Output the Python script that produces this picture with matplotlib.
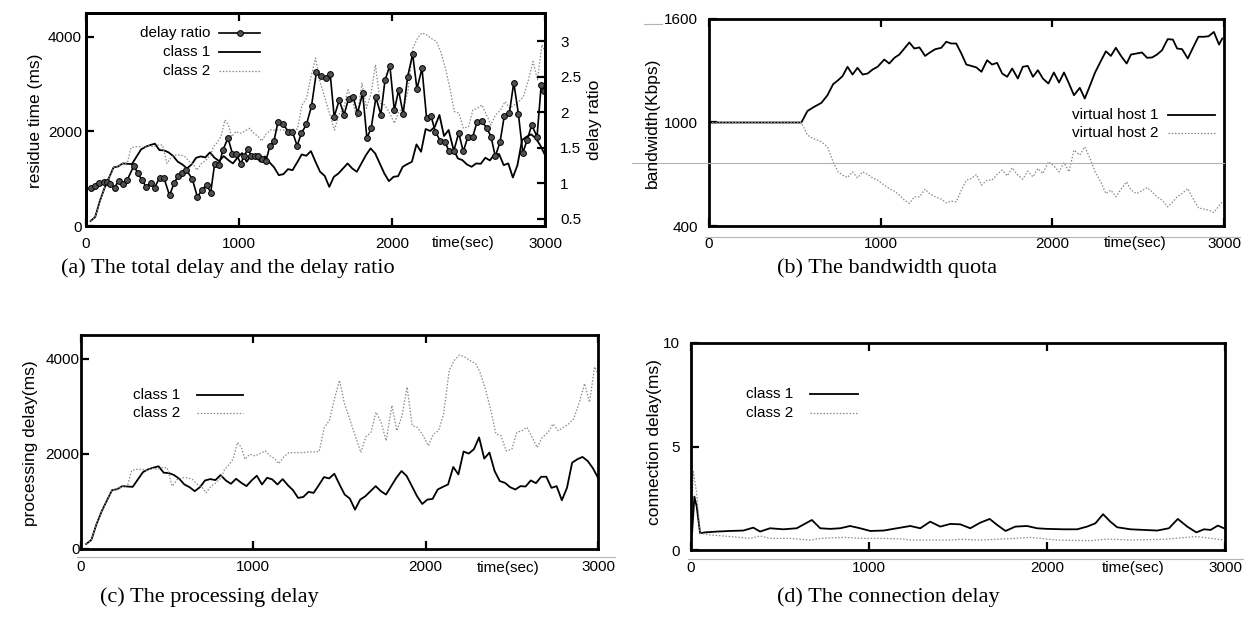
import numpy as np
import matplotlib.pyplot as plt
from matplotlib.lines import Line2D

plt.rcParams['font.family'] = ['Liberation Sans', 'DejaVu Sans']

W, H = 1251, 631

# (a)/(c): residue / processing delay, class 1 sampled every 30 s
t_grid = np.arange(30, 3001, 30)
class1_ms = [106, 191, 523, 792, 1018, 1237, 1258, 1322, 1314, 1307,
             1463, 1618, 1675, 1710, 1739, 1604, 1597, 1555, 1477, 1357,
             1300, 1216, 1300, 1442, 1470, 1449, 1555, 1442, 1371, 1477,
             1392, 1322, 1442, 1541, 1357, 1498, 1463, 1357, 1470, 1343,
             1237, 1074, 1095, 1201, 1180, 1343, 1512, 1484, 1583, 1357,
             1145, 1060, 827, 1039, 1110, 1216, 1322, 1216, 1145, 1322,
             1498, 1640, 1534, 1322, 1110, 947, 1039, 1053, 1251, 1307,
             1357, 1724, 1569, 2049, 2007, 2099, 2346, 1901, 2028, 1640,
             1428, 1392, 1300, 1251, 1322, 1314, 1442, 1385, 1519, 1519,
             1286, 1322, 1025, 1286, 1816, 1887, 1936, 1852, 1700, 1498]

class2_t = [30, 60, 90, 120, 150, 180, 210, 240, 270, 294, 324, 353, 382, 412, 441, 471, 500,
            529, 559, 588, 618, 647, 676, 706, 725, 755, 784, 814, 833, 853, 882, 908, 931, 951,
            980, 1010, 1039, 1069, 1098, 1127, 1147, 1176, 1206, 1235, 1265, 1294, 1324, 1353,
            1382, 1412, 1441, 1471, 1500, 1529, 1559, 1588, 1624, 1653, 1682, 1712, 1741, 1771,
            1804, 1833, 1863, 1892, 1922, 1951, 1980, 2016, 2045, 2075, 2104, 2137, 2167, 2196,
            2225, 2259, 2290, 2318, 2349, 2378, 2408, 2437, 2467, 2500, 2529, 2559, 2588, 2618,
            2647, 2676, 2710, 2739, 2769, 2800, 2829, 2859, 2892, 2922, 2951, 2980, 3000]
class2_ms = [106, 191, 523, 792, 1018, 1237, 1258, 1322, 1330, 1654, 1675, 1675, 1654, 1696,
             1675, 1710, 1710, 1322, 1463, 1498, 1498, 1463, 1357, 1286, 1180, 1322, 1392, 1498,
             1675, 1746, 1887, 2240, 2134, 1887, 1993, 1958, 2007, 2064, 1958, 1887, 1795, 1936,
             2028, 2028, 2028, 2028, 2042, 2042, 2049, 2558, 2700, 3159, 3548, 3053, 2735, 2417,
             2028, 2360, 2452, 2876, 2664, 2276, 3018, 2488, 2806, 3406, 2594, 2558, 2417, 2170,
             2417, 2488, 2841, 3760, 3972, 4078, 4042, 3958, 3901, 3689, 3336, 2912, 2417, 2382,
             2064, 2099, 2452, 2488, 2558, 2346, 2134, 2346, 2452, 2629, 2488, 2558, 2629, 2735,
             3088, 3477, 3088, 3830, 3689]

ratio_t = [34, 62, 88, 117, 134, 160, 187, 213, 239, 270, 313, 339, 365, 394, 422, 448, 481,
           509, 546, 575, 601, 630, 656, 695, 728, 756, 789, 815, 841, 869, 895, 928, 957, 983,
           1011, 1033, 1059, 1081, 1103, 1125, 1151, 1175, 1201, 1229, 1255, 1288, 1321, 1349,
           1380, 1408, 1441, 1474, 1506, 1535, 1567, 1596, 1622, 1655, 1687, 1716, 1746, 1775,
           1808, 1836, 1864, 1895, 1927, 1954, 1986, 2015, 2043, 2073, 2102, 2135, 2163, 2196,
           2226, 2255, 2283, 2315, 2346, 2374, 2403, 2436, 2466, 2495, 2527, 2556, 2586, 2619,
           2647, 2675, 2706, 2734, 2767, 2796, 2826, 2855, 2883, 2913, 2948, 2975, 2996]
ratio = [0.93, 0.97, 1.00, 1.02, 1.02, 0.99, 0.94, 1.04, 0.99, 1.05, 1.25, 1.14, 1.05, 0.95,
         1.01, 0.94, 1.08, 1.08, 0.83, 1.00, 1.10, 1.14, 1.19, 1.06, 0.81, 0.90, 0.98, 0.87,
         1.28, 1.26, 1.47, 1.64, 1.42, 1.41, 1.28, 1.38, 1.49, 1.38, 1.39, 1.38, 1.35, 1.31,
         1.52, 1.60, 1.87, 1.84, 1.73, 1.73, 1.53, 1.71, 1.83, 2.09, 2.57, 2.51, 2.49, 2.54,
         1.94, 2.17, 1.97, 2.19, 2.22, 1.99, 2.27, 1.64, 1.78, 2.21, 1.97, 2.45, 2.66, 2.03,
         2.31, 1.98, 2.50, 2.82, 2.33, 2.62, 1.92, 1.95, 1.73, 1.60, 1.58, 1.45, 1.45, 1.71,
         1.45, 1.65, 1.65, 1.87, 1.88, 1.78, 1.66, 1.38, 1.58, 1.95, 1.99, 2.42, 1.98, 1.43,
         1.61, 1.82, 1.66, 2.38, 2.30]

# (b): bandwidth quota
bw_t = [0, 538, 573, 606, 655, 690, 723, 752, 778, 807, 836, 865, 895, 924, 953, 982, 1021,
        1050, 1080, 1109, 1138, 1167, 1196, 1226, 1259, 1284, 1318, 1353, 1382, 1411, 1440,
        1470, 1499, 1528, 1558, 1587, 1620, 1649, 1678, 1708, 1737, 1766, 1799, 1828, 1857,
        1887, 1916, 1945, 1977, 2009, 2039, 2068, 2097, 2126, 2160, 2189, 2224, 2249, 2282,
        2312, 2341, 2370, 2400, 2433, 2458, 2491, 2522, 2552, 2581, 2610, 2639, 2672, 2702,
        2727, 2756, 2789, 2819, 2851, 2883, 2910, 2941, 2971, 2990]
vhost1 = [1000, 1000, 1066, 1087, 1114, 1158, 1222, 1245, 1269, 1323, 1278, 1317, 1278, 1284,
          1307, 1323, 1365, 1342, 1375, 1394, 1429, 1464, 1429, 1435, 1386, 1404, 1425, 1433,
          1468, 1458, 1458, 1400, 1336, 1328, 1319, 1294, 1361, 1336, 1346, 1284, 1265, 1313,
          1255, 1323, 1328, 1265, 1303, 1255, 1226, 1290, 1232, 1290, 1226, 1158, 1201, 1139,
          1226, 1290, 1355, 1413, 1386, 1433, 1386, 1342, 1394, 1400, 1406, 1375, 1377, 1394,
          1419, 1483, 1481, 1429, 1425, 1371, 1433, 1497, 1497, 1500, 1525, 1452, 1487]
vhost2 = [1000, 1000, 927, 907, 888, 859, 772, 714, 695, 681, 714, 679, 714, 699, 679, 666,
          637, 617, 602, 579, 550, 531, 569, 569, 614, 588, 569, 556, 534, 544, 540, 608, 666,
          675, 699, 637, 666, 666, 699, 724, 691, 737, 695, 672, 718, 685, 733, 704, 772, 749,
          714, 768, 714, 840, 811, 859, 782, 714, 656, 588, 608, 569, 614, 656, 608, 588, 604,
          623, 598, 569, 550, 511, 540, 569, 588, 617, 560, 505, 498, 492, 478, 517, 540]

# (d): connection delay
conn1_t = [0, 6, 19, 32, 51, 79, 145, 219, 294, 350, 388, 444, 519, 594, 679, 726, 782, 838,
           894, 950, 1007, 1082, 1157, 1232, 1288, 1344, 1400, 1457, 1513, 1569, 1625, 1678,
           1720, 1767, 1822, 1888, 1944, 2000, 2094, 2169, 2225, 2272, 2315, 2356, 2394, 2469,
           2544, 2619, 2685, 2735, 2788, 2839, 2882, 2919, 2960, 2994]
conn1 = [0.8, 0.81, 2.58, 2.10, 0.81, 0.85, 0.89, 0.92, 0.94, 1.08, 0.89, 1.05, 1.00, 1.05,
         1.45, 1.05, 1.02, 1.05, 1.16, 1.05, 0.92, 0.94, 1.05, 1.16, 1.05, 1.37, 1.13, 1.26,
         1.24, 1.05, 1.32, 1.50, 1.21, 0.92, 1.13, 1.16, 1.05, 1.02, 1.00, 1.00, 1.13, 1.29,
         1.73, 1.37, 1.10, 1.00, 0.97, 0.94, 1.05, 1.50, 1.13, 0.85, 1.00, 0.97, 1.18, 1.05]
conn2_t = [0, 13, 32, 51, 107, 219, 332, 388, 444, 557, 669, 726, 857, 970, 1082, 1194, 1232,
           1344, 1457, 1513, 1625, 1813, 1907, 2057, 2244, 2338, 2469, 2657, 2844, 2994]
conn2 = [0.8, 3.79, 2.74, 0.81, 0.73, 0.65, 0.56, 0.68, 0.56, 0.56, 0.48, 0.56, 0.61, 0.56,
         0.56, 0.53, 0.48, 0.48, 0.48, 0.52, 0.48, 0.56, 0.61, 0.48, 0.45, 0.53, 0.48, 0.52,
         0.65, 0.48]

x_ticks = [0, 1000, 2000, 3000]

solid = dict(color='black', lw=1.3)
dotted = dict(color='#8a8a8a', lw=0.9, ls=(0, (1.2, 1.4)))


def fx(x):
    return x / W


def fy(y):
    return 1 - y / H


def make_axes(fig, l, t, r, b):
    return fig.add_axes([fx(l), fy(b), (r - l) / W, (b - t) / H])


def style(ax, yticks, ylim, ypad):
    ax.set_xlim(0, 3000)
    ax.set_ylim(*ylim)
    ax.set_xticks(x_ticks)
    ax.set_yticks(yticks)
    ax.tick_params(axis='x', direction='in', top=True, length=6, width=1.6, pad=8, labelsize=11)
    ax.tick_params(axis='y', direction='in', length=6, width=1.6, pad=ypad, labelsize=11)
    for s in ax.spines.values():
        s.set_linewidth(2)


def key(fig, xr, y, label, x0, x1, **kw):
    # gnuplot-like key: text right aligned, sample on the right
    fig.text(fx(xr), fy(y), label, ha='right', va='center', fontsize=11)
    fig.add_artist(Line2D([fx(x0), fx((x0 + x1) / 2), fx(x1)], [fy(y)] * 3, **kw))


def gray_rule(fig, x0, x1, y):
    fig.add_artist(Line2D([fx(x0), fx(x1)], [fy(y), fy(y)], color='#b4b4b4', lw=0.8))


fig = plt.figure(figsize=(W / 100, H / 100), dpi=100)

# (a) total delay and delay ratio
ax = make_axes(fig, 86, 13, 545, 226)
ax.plot(t_grid, class1_ms, **solid)
ax.plot(class2_t, class2_ms, **dotted)
style(ax, [0, 2000, 4000], (0, 4500), 3)
ax.tick_params(axis='y', right=False)
ax2 = ax.twinx()
ax2.plot(ratio_t, ratio, color='black', lw=1.2, marker='o', ms=4.2,
         mfc='#505050', mec='black', mew=0.7)
ax2.set_ylim(0.4, 3.4)
ax2.set_yticks([0.5, 1, 1.5, 2, 2.5, 3])
ax2.set_yticklabels(['0.5', '1', '1.5', '2', '2.5', '3'])
ax2.tick_params(axis='y', direction='in', length=6, width=1.6, pad=11, labelsize=11)
for s in ax2.spines.values():
    s.set_linewidth(2)
fig.text(fx(36), fy(121), 'residue time (ms)', rotation=90, ha='center', va='center', fontsize=12.5)
fig.text(fx(595), fy(120), 'delay ratio', rotation=90, ha='center', va='center', fontsize=12.5)
fig.text(fx(463), fy(243), 'time(sec)', ha='center', va='center', fontsize=11)
key(fig, 210, 33, 'delay ratio', 219, 260, color='black', lw=1.2, marker='o', ms=4.2,
    mfc='#505050', mec='black', mew=0.7, markevery=[1])
key(fig, 210, 52, 'class 1', 219, 260, **solid)
key(fig, 210, 71, 'class 2', 219, 260, **dotted)

# (b) bandwidth quota
ax = make_axes(fig, 709, 19, 1224, 226)
ax.plot(bw_t, vhost1, **solid)
ax.plot(bw_t, vhost2, **dotted)
style(ax, [400, 1000, 1600], (400, 1600), 8)
fig.text(fx(652), fy(123), 'bandwidth(Kbps)', rotation=90, ha='center', va='center', fontsize=12.5)
fig.text(fx(1135), fy(243), 'time(sec)', ha='center', va='center', fontsize=11)
key(fig, 1158, 115, 'virtual host 1', 1168, 1215, **solid)
key(fig, 1158, 133, 'virtual host 2', 1168, 1215, **dotted)

# (c) processing delay
ax = make_axes(fig, 81, 335, 598, 549)
ax.plot(t_grid, class1_ms, **solid)
ax.plot(class2_t, class2_ms, **dotted)
style(ax, [0, 2000, 4000], (0, 4500), 1)
fig.text(fx(31), fy(443), 'processing delay(ms)', rotation=90, ha='center', va='center', fontsize=12.5)
fig.text(fx(508), fy(568), 'time(sec)', ha='center', va='center', fontsize=11)
key(fig, 180, 395, 'class 1', 197, 243, **solid)
key(fig, 180, 413, 'class 2', 197, 243, **dotted)

# (d) connection delay
ax = make_axes(fig, 691, 343, 1225, 550)
ax.plot(conn1_t, conn1, **solid)
ax.plot(conn2_t, conn2, **dotted)
style(ax, [0, 5, 10], (0, 10), 8)
fig.text(fx(655), fy(442), 'connection delay(ms)', rotation=90, ha='center', va='center', fontsize=12.5)
fig.text(fx(1133), fy(568), 'time(sec)', ha='center', va='center', fontsize=11)
key(fig, 793, 394, 'class 1', 810, 858, **solid)
key(fig, 793, 413, 'class 2', 810, 858, **dotted)

# scan leftovers from the original figure
gray_rule(fig, 632, 1224, 163)
gray_rule(fig, 644, 662, 24)
gray_rule(fig, 705, 1240, 237)
gray_rule(fig, 77, 615, 557)
gray_rule(fig, 688, 1243, 559)

# captions
cap = dict(ha='center', va='center', fontsize=16, family='Liberation Serif')
fig.text(fx(228), fy(268), '(a) The total delay and the delay ratio', **cap)
fig.text(fx(887), fy(268), '(b) The bandwidth quota', **cap)
fig.text(fx(209), fy(597), '(c) The processing delay', **cap)
fig.text(fx(888), fy(597), '(d) The connection delay', **cap)

fig.savefig('out.png', dpi=100)
